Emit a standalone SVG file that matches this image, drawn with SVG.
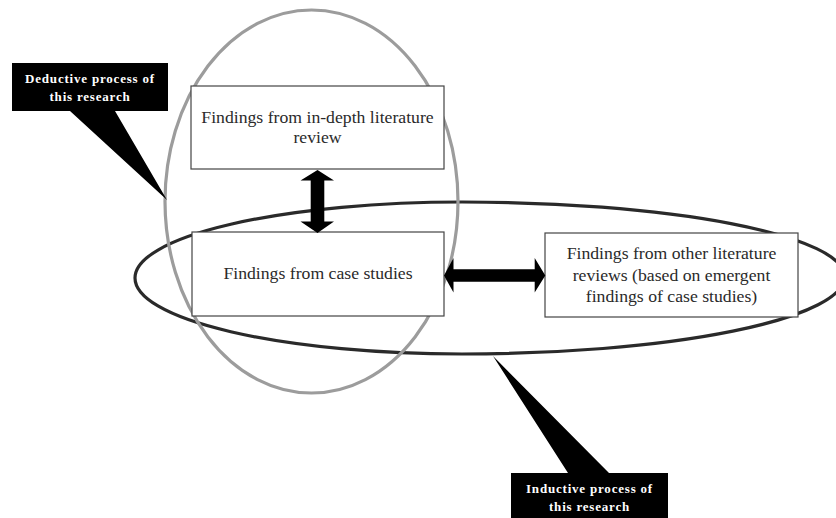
<svg xmlns="http://www.w3.org/2000/svg" width="836" height="518" viewBox="0 0 836 518">
  <style>
    .box { fill: #ffffff; stroke: #444444; stroke-width: 1.2; }
    .label { font-family: "Liberation Serif", "Times New Roman", serif; font-size: 17.7px; fill: #2a2a2a; text-anchor: middle; }
    .callout { fill: #000000; }
    .callout-text { font-family: "Liberation Serif", "Times New Roman", serif; font-size: 13px; font-weight: bold; fill: #ffffff; text-anchor: middle; letter-spacing: 0.8px; }
    .arrow { fill: #000000; }
  </style>

  <!-- scope outlines -->
  <g id="inductive-scope">
    <path d="M135,278 A327,76 0 0 1 462,202 A383,75 0 0 1 845,276 A383,78 0 0 1 462,354 A327,76 0 0 1 135,278 Z" fill="none" stroke="#2a2a2a" stroke-width="3.2"/>
  </g>
  <g id="deductive-scope">
    <ellipse cx="311.5" cy="201.5" rx="146.5" ry="191.5" fill="none" stroke="#9c9c9c" stroke-width="3.2"/>
  </g>

  <!-- callouts -->
  <g id="deductive-callout">
    <path class="callout" d="M12,63 H168 V111 H115 L167,200 L70,111 H12 Z"/>
    <text class="callout-text" x="90" y="82.7">Deductive process of</text>
    <text class="callout-text" x="90" y="100.5">this research</text>
  </g>
  <g id="inductive-callout">
    <path class="callout" d="M511,473 H568 L493,356 L609,473 H668 V520 H511 Z"/>
    <text class="callout-text" x="589.5" y="492.7">Inductive process of</text>
    <text class="callout-text" x="589.5" y="511">this research</text>
  </g>

  <!-- findings boxes -->
  <g id="literature-review">
    <rect class="box" x="191" y="86" width="253" height="83"/>
    <text class="label" x="317.5" y="122.5">Findings from in-depth literature</text>
    <text class="label" x="317.5" y="142.5">review</text>
  </g>
  <g id="case-studies">
    <rect class="box" x="192" y="232" width="252" height="84"/>
    <text class="label" x="318" y="279.3">Findings from case studies</text>
  </g>
  <g id="other-reviews">
    <rect class="box" x="545" y="233" width="253" height="84"/>
    <text class="label" x="671.5" y="259">Findings from other literature</text>
    <text class="label" x="671.5" y="280.5">reviews (based on emergent</text>
    <text class="label" x="671.5" y="301.5">findings of case studies)</text>
  </g>

  <!-- two-way connectors -->
  <g id="connectors">
    <path class="arrow" d="M317.5,170 L334,180.5 H324.3 V221.5 H334 L317.5,233 L300.5,221.5 H310.7 V180.5 H300.5 Z"/>
    <path class="arrow" d="M444,275.5 L453.5,258 V269.3 H534.7 V258 L545.3,275.5 L534.7,292.5 V281.7 H453.5 V292.5 Z"/>
  </g>
</svg>
